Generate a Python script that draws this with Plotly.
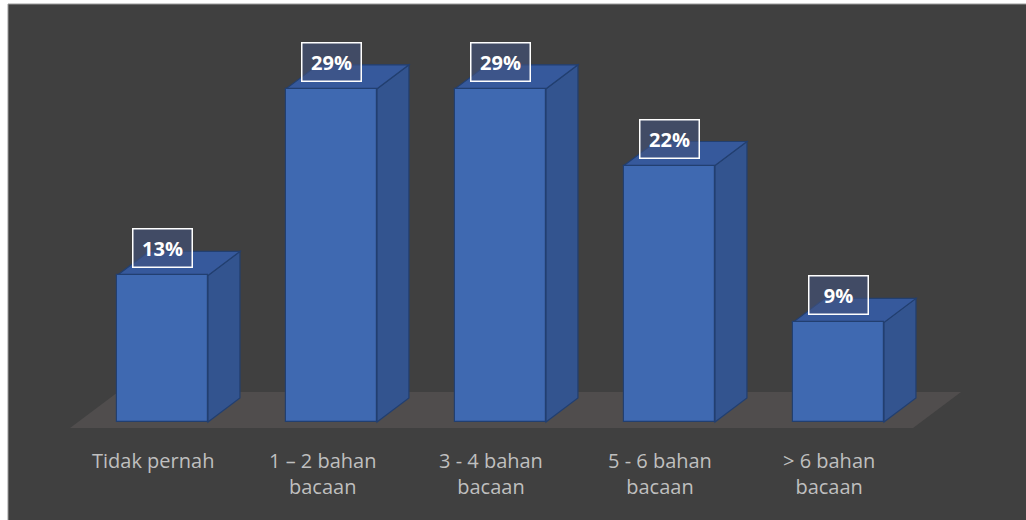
import plotly.graph_objects as go

# ---- data ----
categories = ["Tidak pernah", "1 – 2 bahan<br>bacaan", "3 - 4 bahan<br>bacaan",
              "5 - 6 bahan<br>bacaan", "> 6 bahan<br>bacaan"]
values = [12.8, 29.1, 29.1, 22.4, 8.7]          # percent
value_labels = ["13%", "29%", "29%", "22%", "9%"]

# ---- style / geometry ----
BG = "#404040"
FRONT = "#3F69B1"
SIDE = "#33548F"
TOP = "#36599C"
EDGE = "#223F70"
FLOOR = "#504D4D"
BAR_W = 0.5385          # front-face width in category units
DX, DY = 0.189, 2.096   # oblique depth offset (x units, y units)

x_idx = list(range(len(categories)))

fig = go.Figure()

# floor
fx0, fx1, fdx = -0.547, len(categories) - 1 + 0.441, 0.284
fy0, fy1 = -0.524, 2.62
fig.add_shape(type="path", layer="below", xref="x", yref="y",
              path=f"M{fx0},{fy0} L{fx1},{fy0} L{fx1+fdx},{fy1} L{fx0+fdx},{fy1} Z",
              fillcolor=FLOOR, line=dict(width=0))

# side and top faces
for i, v in zip(x_idx, values):
    xl, xr = i - BAR_W / 2, i + BAR_W / 2
    fig.add_shape(type="path", layer="below", xref="x", yref="y",
                  path=f"M{xr},0 L{xr},{v} L{xr+DX},{v+DY} L{xr+DX},{DY} Z",
                  fillcolor=SIDE, line=dict(color=EDGE, width=1.2))
    fig.add_shape(type="path", layer="below", xref="x", yref="y",
                  path=f"M{xl},{v} L{xr},{v} L{xr+DX},{v+DY} L{xl+DX},{v+DY} Z",
                  fillcolor=TOP, line=dict(color=EDGE, width=1.2))

# front faces
fig.add_trace(go.Bar(x=x_idx, y=values, width=BAR_W,
                     marker=dict(color=FRONT, line=dict(color=EDGE, width=1.2)),
                     hoverinfo="skip", showlegend=False))

# value labels
for i, v, t in zip(x_idx, values, value_labels):
    fig.add_annotation(x=i, y=v + 2.36, xref="x", yref="y", text=f"<b>{t}</b>",
                       showarrow=False, xanchor="center", yanchor="middle",
                       font=dict(family="Open Sans", size=20, color="white"),
                       bgcolor="rgba(66,84,127,0.6)", bordercolor="white",
                       borderwidth=1.5, width=56, height=35)

# category labels
for i, c in zip(x_idx, categories):
    fig.add_annotation(x=i - 0.055, y=-2.05, xref="x", yref="y", text=c,
                       showarrow=False, xanchor="center", yanchor="top",
                       align="center",
                       font=dict(family="Open Sans", size=20, color="#BFBFBF"))

# chart border (left & top)
fig.add_shape(type="line", xref="paper", yref="paper", x0=0, x1=0, y0=0, y1=1,
              line=dict(color="#9A9A9A", width=1))
fig.add_shape(type="line", xref="paper", yref="paper", x0=0, x1=1, y0=1, y1=1,
              line=dict(color="#9A9A9A", width=1))

fig.update_layout(
    width=1026, height=520, autosize=False,
    margin=dict(l=8, r=0, t=4, b=0),
    paper_bgcolor="white", plot_bgcolor=BG,
    xaxis=dict(range=[-0.9142, 5.1095], visible=False, fixedrange=True),
    yaxis=dict(range=[-8.559, 36.507], visible=False, fixedrange=True),
    bargap=0,
)

fig.write_html("out.html", config=dict(displayModeBar=False),
               post_script="document.body.style.margin='0px';"
                           "document.body.style.overflow='hidden';")
